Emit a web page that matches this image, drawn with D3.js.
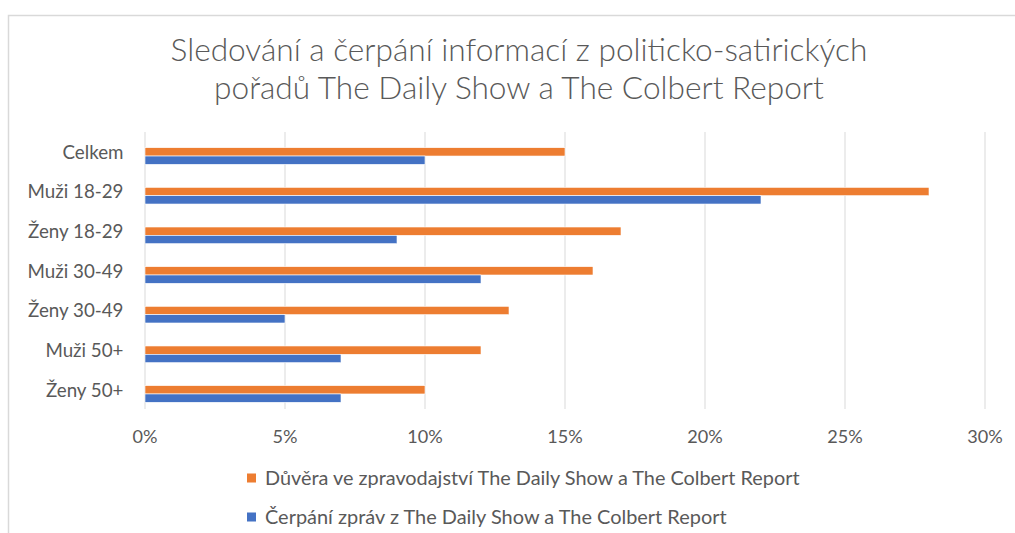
<!DOCTYPE html>
<html><head><meta charset="utf-8">
<script src="https://cdn.jsdelivr.net/npm/d3@7"></script>
<style>
html,body{margin:0;padding:0;background:#fff;}
text{font-family:Lato,"Open Sans",sans-serif;fill:#595959;}
</style></head>
<body>
<svg id="c" width="1015" height="533"></svg>
<script>
const categories = ["Celkem","Muži 18-29","Ženy 18-29","Muži 30-49","Ženy 30-49","Muži 50+","Ženy 50+"];
const trustValues = [15,28,17,16,13,12,10];   // Důvěra ve zpravodajství...
const newsValues  = [10,22,9,12,5,7,7];       // Čerpání zpráv z...
const seriesNames = ["Důvěra ve zpravodajství The Daily Show a The Colbert Report",
                     "Čerpání zpráv z The Daily Show a The Colbert Report"];
const seriesColors = ["#ED7D31","#4472C4"];
const xTicks = [0,5,10,15,20,25,30];
const titleLines = ["Sledování a čerpání informací z politicko-satirických",
                    "pořadů The Daily Show a The Colbert Report"];

const svg = d3.select("#c");
// frame
svg.append("rect").attr("x",8.5).attr("y",15.5).attr("width",1015).attr("height",540)
  .attr("fill","none").attr("stroke","#D9D9D9").attr("stroke-width",1.5);

function fitSize(sample, target, size){
  const t = svg.append("text").style("font-size", size+"px").text(sample);
  const w = t.node().getComputedTextLength();
  t.remove();
  return size*target/w;
}
function fit(sel, target, size){
  sel.style("font-size", size+"px");
  const w = sel.node().getComputedTextLength();
  sel.style("font-size", (size*target/w).toFixed(2)+"px");
}

// title
const tw = [697, 610];
titleLines.forEach((t,i)=>{
  const el = svg.append("text").attr("x",519).attr("y",[61,99][i]).attr("text-anchor","middle")
    .style("font-weight",300).text(t);
  fit(el, tw[i], 25);
});

const x = d3.scaleLinear().domain([0,30]).range([145,985]);
const y = d3.scaleBand().domain(categories).range([136.2,413.8]).paddingInner(0).paddingOuter(0);
const groupH = y.bandwidth()/2.38;
const sub = d3.scaleBand().domain([0,1]).range([0,groupH]);

// gridlines
svg.append("g").selectAll("line").data(xTicks).join("line")
  .attr("x1",d=>x(d)).attr("x2",d=>x(d)).attr("y1",132).attr("y2",409)
  .attr("stroke","#D9D9D9").attr("stroke-width",1);

// x tick labels
const tickSize = fitSize("10%", 35.5, 16);
svg.append("g").selectAll("text").data(xTicks).join("text")
  .attr("x",d=>x(d)).attr("y",443).attr("text-anchor","middle")
  .style("font-size",tickSize+"px").text(d=>d+"%");

// bars
const data = [trustValues, newsValues];
data.forEach((vals,si)=>{
  svg.append("g").selectAll("rect").data(categories).join("rect")
    .attr("x",x(0))
    .attr("y",(d)=>y(d)+(y.bandwidth()-groupH)/2+sub(si))
    .attr("width",(d,i)=>x(vals[i])-x(0))
    .attr("height",sub.bandwidth())
    .attr("fill",seriesColors[si])
    .attr("stroke","#fff").attr("stroke-width",0.6);
});

// category labels
const catSize = fitSize("Muži 18-29", 96, 16);
svg.append("g").selectAll("text").data(categories).join("text")
  .attr("x",123.5).attr("y",d=>y(d)+y.bandwidth()/2-3.8).attr("dy","0.35em")
  .attr("text-anchor","end").style("font-size",catSize+"px").text(d=>d);

// legend
const ly = [478, 517];
const lw = [535, 462];
seriesNames.forEach((n,i)=>{
  svg.append("rect").attr("x",247).attr("y",ly[i]-4.5).attr("width",9).attr("height",9)
    .attr("fill",seriesColors[i]);
  const el = svg.append("text").attr("x",265).attr("y",ly[i]).attr("dy","0.35em").text(n);
  fit(el, lw[i], 16);
});
</script>
</body></html>
